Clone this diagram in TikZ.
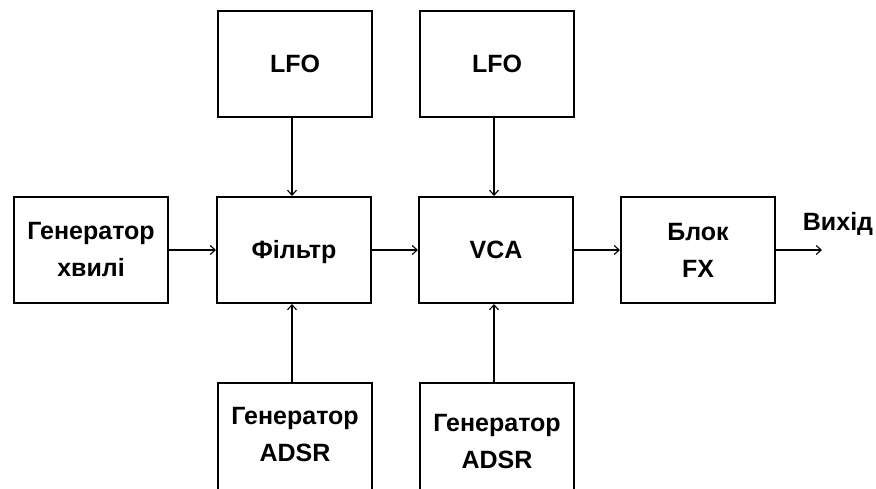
\documentclass[tikz,border=0pt]{standalone}
\usepackage{fontspec}
\setmainfont{Liberation Sans}
\usetikzlibrary{arrows.meta}
\begin{document}
\begin{tikzpicture}[x=1pt,y=-1pt,
  block/.style={draw, line width=2pt, minimum width=154pt, minimum height=106pt,
    inner sep=0pt, align=center, font=\fontsize{25}{37}\selectfont\bfseries},
  label/.style={inner sep=0pt, align=center, font=\fontsize{25}{37}\selectfont\bfseries},
  link/.style={line width=1.8pt, -{Straight Barb[length=5pt,width=9pt,line width=1.1pt]}}]
  \useasboundingbox (0,0) rectangle (876,489);
  \clip (0,0) rectangle (876,489);
  % signal chain
  \node[block] (gen) at (91,250) {Генератор\\хвилі};
  \node[block] (flt) at (294,250) {};
  \node[label, anchor=base] (flttxt) at (294,259) {Фільтр};
  \node[block] (vca) at (496,250) {VCA};
  \node[block] (fx)  at (698,250) {Блок\\FX};
  % modulation sources
  \node[block] (lfoa) at (295,64) {LFO};
  \node[block] (lfob) at (497,64) {LFO};
  \node[block, minimum height=130pt] (adsra) at (295,448) {};
  \node[block, minimum height=130pt] (adsrb) at (497,448) {};
  \node[label] (adsratxt) at (295,435) {Генератор\\ADSR};
  \node[label] (adsrbtxt) at (497,442) {Генератор\\ADSR};
  % output
  \coordinate (out) at (822,250);
  \node[label] (outtxt) at (838,224) {Вихід};
  % connections
  \draw[link] (gen.east) -- (flt.west);
  \draw[link] (flt.east) -- (vca.west);
  \draw[link] (vca.east) -- (fx.west);
  \draw[link] (fx.east) -- (out);
  \draw[link] (lfoa.south -| 292,0) -- (flt.north -| 292,0);
  \draw[link] (lfob.south -| 494,0) -- (vca.north -| 494,0);
  \draw[link] (adsra.north -| 292,0) -- (flt.south -| 292,0);
  \draw[link] (adsrb.north -| 494,0) -- (vca.south -| 494,0);
\end{tikzpicture}
\end{document}
